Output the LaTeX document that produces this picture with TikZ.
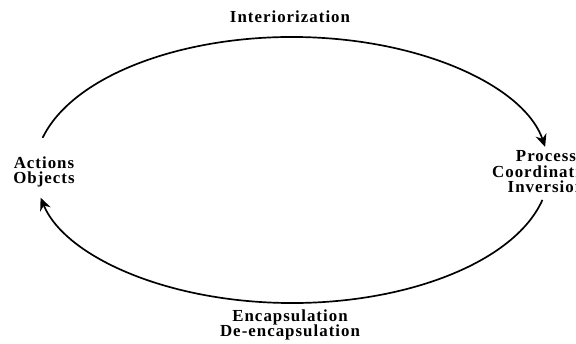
\documentclass[tikz,border=0pt]{standalone}
\usepackage{fontspec}
\setmainfont{Liberation Serif}
\newfontfamily\lblfont[LetterSpace=6]{Liberation Serif}
\usetikzlibrary{arrows.meta, calc}
\tikzset{
	lbl/.style={align=center, inner sep=0pt, font={\lblfont\bfseries\fontsize{12}{11}\selectfont}},
	cycle arrow/.style={line width=1.2pt, -{Stealth[length=9pt, width=8pt]}}
}
\begin{document}
\begin{tikzpicture}[x=0.025cm, y=0.025cm]
			\useasboundingbox (0, 0) rectangle (576, 343);
			\clip (0, 0) rectangle (576, 343);
			\coordinate (CTR) at (292, 173);
			\coordinate (TOPSTART) at ($(CTR)+(166:257 and 133)$);
			\coordinate (BOTSTART) at ($(CTR)+(-13:257 and 133)$);
			\node[lbl] (AO) at (44, 171) {Actions\\Objects};
			\node[lbl] (PCI) at (546, 171) {Process\\Coordination\\Inversion};
			\node[lbl] (INT) at (290, 326) {Interiorization};
			\node[lbl] (ENC) at (290, 18) {Encapsulation\\De-encapsulation};
			\draw[cycle arrow] (TOPSTART) arc[start angle=166, end angle=10, x radius=257, y radius=133];
			\draw[cycle arrow] (BOTSTART) arc[start angle=-13, end angle=-168, x radius=257, y radius=133];
		\end{tikzpicture}
\end{document}
